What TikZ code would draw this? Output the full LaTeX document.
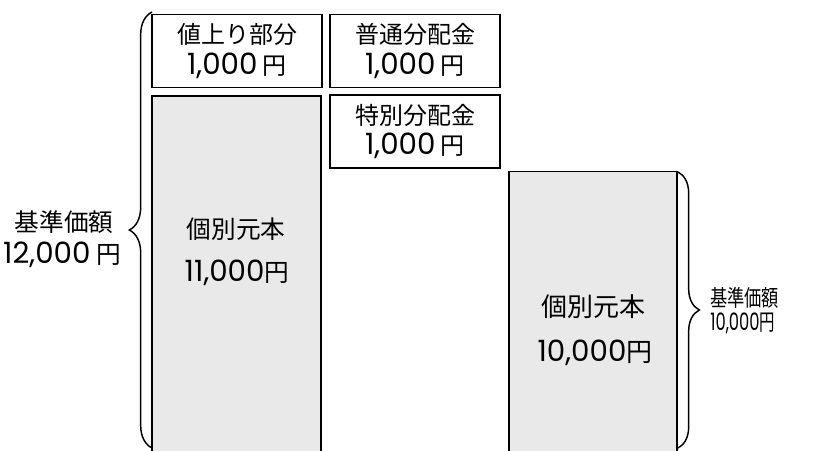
\documentclass[tikz,border=0pt]{standalone}
\usepackage{fontspec}
\setmainfont{Noto Sans CJK JP}
\newfontfamily\dgfont{Poppins}
\usetikzlibrary{decorations.pathreplacing}
\definecolor{boxgray}{HTML}{E9E9E9}
\newcommand\dg[1]{{\dgfont\fontsize{22}{22}\selectfont #1}}
\newcommand\dgs[1]{{\dgfont\fontsize{18}{18}\selectfont #1}}
\begin{document}
\begin{tikzpicture}[x=0.75pt,y=-0.75pt,
  smallbox/.style={draw,line width=1.2pt,minimum width=127.5pt,minimum height=55pt,inner sep=0pt,align=center,font=\fontsize{18}{23}\selectfont},
  graybox/.style={draw,line width=1.2pt,fill=boxgray,inner sep=0pt},
  txt/.style={inner sep=0pt,font=\fontsize{18.5}{22}\selectfont},
  bigtxt/.style={inner sep=0pt,font=\fontsize{19.5}{22}\selectfont},
  rtxt/.style={inner sep=0pt,align=left,font=\fontsize{17}{18}\selectfont},
  bracestyle/.style={line width=1.1pt,decorate,decoration={brace,amplitude=#1}}]
\useasboundingbox (0,0) rectangle (813,450);
\node[smallbox] (up) at (237,51) {値上り部分\\\dg{1,000} 円};
\node[smallbox] (ord) at (415,51) {普通分配金\\\dg{1,000} 円};
\node[smallbox] (spe) at (415,131.5) {特別分配金\\\dg{1,000} 円};
\node[graybox,minimum width=126.75pt,minimum height=276pt] (lg) at (236.5,280) {};
\node[graybox,minimum width=126pt,minimum height=218pt] (rg) at (593,317) {};
\node[txt] (lt1) at (236,229) {個別元本};
\node[txt] (lt2) at (237,273) {\dg{11,000}円};
\node[bigtxt] (rt1) at (593,307) {個別元本};
\node[bigtxt] (rt2) at (595,353) {\dg{10,000}円};
\node[txt] (ll1) at (64,222) {基準価額};
\node[txt] (ll2) at (62,255) {\dg{12,000} 円};
\node[rtxt,anchor=west] (rl) at (710,311) {\scalebox{0.76}[1]{基準価額}\\\scalebox{0.68}[1]{\dgs{10,000}円}};
\coordinate (lb1) at (152,448);
\coordinate (lb2) at (152,12);
\coordinate (rb1) at (678,172);
\coordinate (rb2) at (678,448);
\draw[bracestyle=17pt] (lb1) -- (lb2);
\draw[bracestyle=16pt] (rb1) -- (rb2);
\end{tikzpicture}
\end{document}
